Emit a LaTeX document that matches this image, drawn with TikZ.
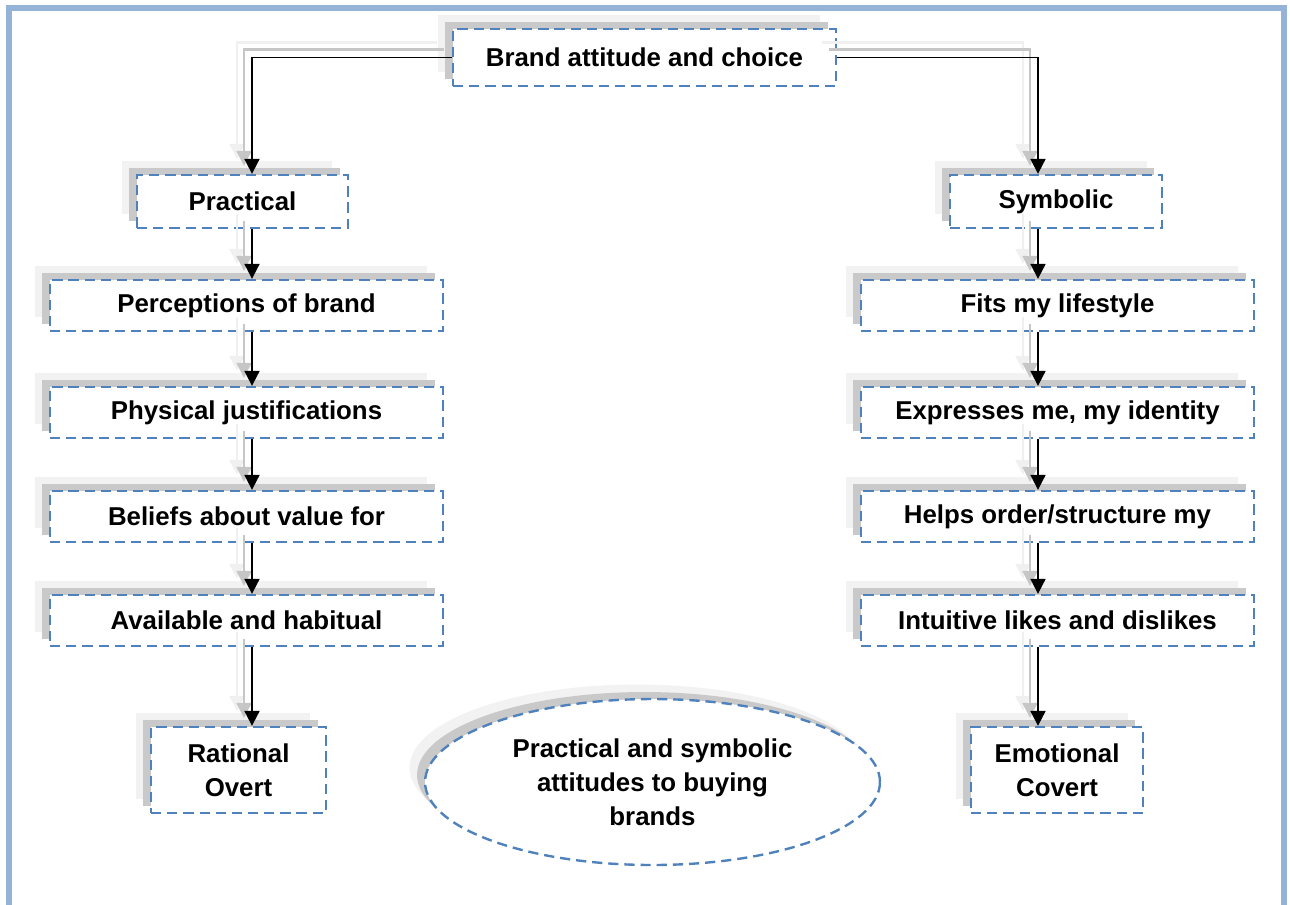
\documentclass[tikz,border=0pt]{standalone}
\usepackage{fontspec}
\setmainfont{Liberation Sans}
\usetikzlibrary{shapes.geometric,shadows,arrows.meta}
\definecolor{framec}{HTML}{95B3D7}
\definecolor{dashc}{HTML}{4F81BD}
\begin{document}
\begin{tikzpicture}[x=0.02cm,y=-0.02cm,
  txt/.style={font=\fontsize{14.7}{19.3}\selectfont\bfseries, align=center, inner sep=0pt},
  shadowed/.style={
     general shadow={fill=gray!10, draw=none, shadow xshift=-0.31cm, shadow yshift=0.29cm},
     general shadow={fill=gray!42, draw=none, shadow xshift=-0.16cm, shadow yshift=0.14cm}},
  box/.style={txt, rectangle, draw=dashc, line width=1.35pt, dash pattern=on 5.8pt off 3.4pt, fill=white, shadowed},
  oval/.style={txt, ellipse, draw=dashc, line width=1.35pt, dash pattern=on 5.8pt off 3.4pt, fill=white, shadowed},
  tip/.style={-{Triangle[width=8.5pt,length=8.5pt]}},
  arr/.style={tip, draw=black, line width=1.1pt},
  shA/.style={tip, draw=gray!12, line width=1.4pt, transform canvas={xshift=-0.3cm, yshift=0.3cm}},
  shB/.style={tip, draw=gray!45, line width=1.2pt, transform canvas={xshift=-0.16cm, yshift=0.16cm}},
]
\useasboundingbox (0,0) rectangle (1290,904);
\fill[white] (0,0) rectangle (1290,904);
\draw[framec, line width=3.4pt] (9,8) rectangle (1284,930);

\coordinate (colL) at (252,0);
\coordinate (colR) at (1038,0);

% nodes
\node[box, minimum width=7.66cm, minimum height=1.14cm] (top) at (644.5,57.5) {Brand attitude and choice};

\node[box, minimum width=4.22cm, minimum height=1.06cm] (prac) at (242.5,201.5) {Practical};
\node[box, minimum width=7.86cm, minimum height=1.02cm] (l1) at (246.5,305.5) {Perceptions of brand};
\node[box, minimum width=7.86cm, minimum height=1.02cm] (l2) at (246.5,412.5) {Physical justifications};
\node[box, minimum width=7.86cm, minimum height=1.02cm] (l3) at (246.5,516.5) {Beliefs about value for};
\node[box, minimum width=7.86cm, minimum height=1.02cm] (l4) at (246.5,620.5) {Available and habitual};
\node[box, minimum width=3.5cm, minimum height=1.72cm] (rat) at (238.5,770) {Rational\\Overt};

\node[box, minimum width=4.24cm, minimum height=1.06cm] (symb) at (1056,201.5) {Symbolic};
\node[box, minimum width=7.86cm, minimum height=1.02cm] (r1) at (1057.5,305.5) {Fits my lifestyle};
\node[box, minimum width=7.86cm, minimum height=1.02cm] (r2) at (1057.5,412.5) {Expresses me, my identity};
\node[box, minimum width=7.86cm, minimum height=1.02cm] (r3) at (1057.5,516.5) {Helps order/structure my};
\node[box, minimum width=7.86cm, minimum height=1.02cm] (r4) at (1057.5,620.5) {Intuitive likes and dislikes};
\node[box, minimum width=3.44cm, minimum height=1.72cm] (emo) at (1057,770) {Emotional\\Covert};

\node[oval, minimum width=9.1cm, minimum height=3.32cm, inner sep=0pt] (ell) at (652.5,782) {Practical and symbolic\\attitudes to buying\\brands};

% connectors (shadows first, then lines)
\foreach \s in {shA,shB,arr}{
  \draw[\s] (top.west) -| (colL |- prac.north);
  \draw[\s] (top.east) -| (colR |- symb.north);
  \draw[\s] (colL |- prac.south) -- (colL |- l1.north);
  \draw[\s] (colL |- l1.south) -- (colL |- l2.north);
  \draw[\s] (colL |- l2.south) -- (colL |- l3.north);
  \draw[\s] (colL |- l3.south) -- (colL |- l4.north);
  \draw[\s] (colL |- l4.south) -- (colL |- rat.north);
  \draw[\s] (colR |- symb.south) -- (colR |- r1.north);
  \draw[\s] (colR |- r1.south) -- (colR |- r2.north);
  \draw[\s] (colR |- r2.south) -- (colR |- r3.north);
  \draw[\s] (colR |- r3.south) -- (colR |- r4.north);
  \draw[\s] (colR |- r4.south) -- (colR |- emo.north);
}
\end{tikzpicture}
\end{document}
